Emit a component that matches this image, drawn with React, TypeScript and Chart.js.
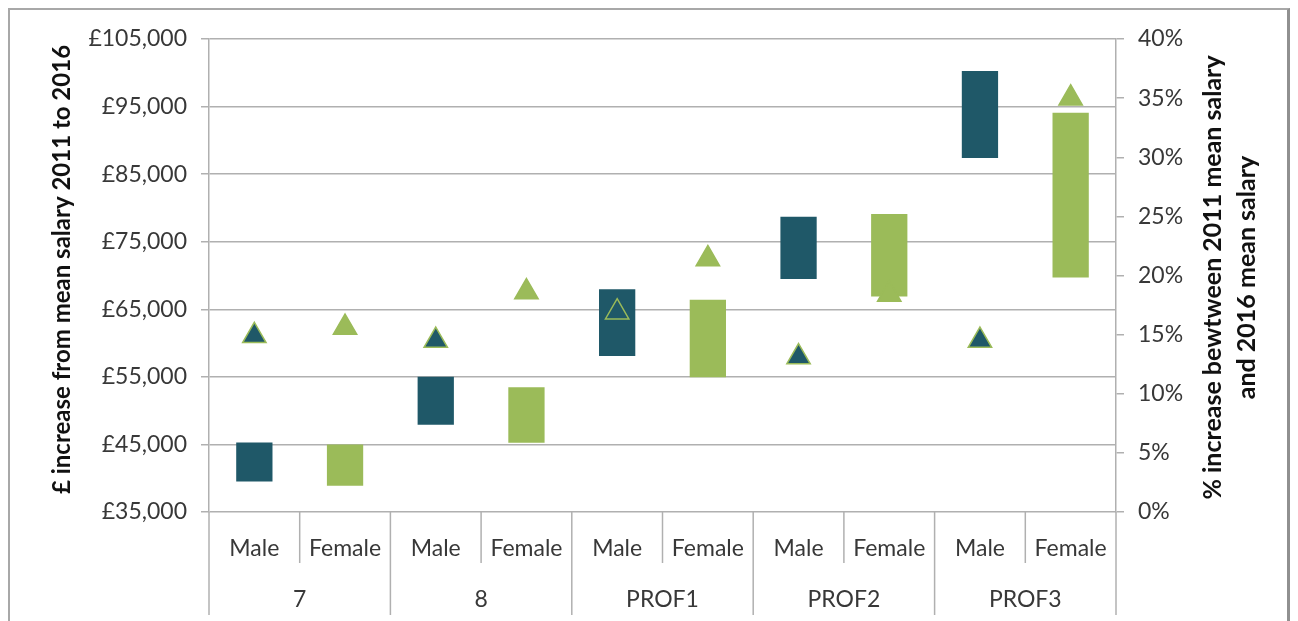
import { useEffect, useRef } from "react";
import { Chart, registerables, type Plugin } from "chart.js";

Chart.register(...registerables);

const groups = ["7", "8", "PROF1", "PROF2", "PROF3"];
const sexes = ["Male", "Female", "Male", "Female", "Male", "Female", "Male", "Female", "Male", "Female"];

// 2011 mean salary (low) and 2016 mean salary (high), £
const salaryLow = [39500, 38900, 47900, 45250, 58100, 54950, 69500, 66900, 87400, 69700];
const salaryHigh = [45300, 45000, 55000, 53450, 67950, 66400, 78700, 79100, 100250, 94100];

// % increase between 2011 and 2016 mean salary
const pctIncrease = [14.9, 15.6, 14.5, 18.6, 16.9, 21.4, 13.1, 18.4, 14.5, 35.0];

const leftTicks = [35000, 45000, 55000, 65000, 75000, 85000, 95000, 105000];
const rightTicks = [0, 5, 10, 15, 20, 25, 30, 35, 40];

const TEAL = "#1f5868";
const GREEN = "#9bbb59";
const GRID = "#b0b0b0";
const TEXT = "#383838";

const leftTitle = "£ increase from mean salary 2011 to 2016";
const rightTitle = ["% increase bewtween 2011 mean salary", "and 2016 mean salary"];

const groupAxis: Plugin<"bar"> = {
  id: "groupAxis",
  afterDraw(chart) {
    const { ctx, chartArea } = chart;
    const x = chart.scales.x;
    const n = sexes.length;
    const bottom = chartArea.bottom;
    ctx.save();
    ctx.strokeStyle = GRID;
    ctx.lineWidth = 1.5;
    for (let i = 0; i <= n; i++) {
      let px: number;
      if (i === 0) px = chartArea.left;
      else if (i === n) px = chartArea.right;
      else px = (x.getPixelForValue(i - 1) + x.getPixelForValue(i)) / 2;
      ctx.beginPath();
      ctx.moveTo(px, bottom);
      ctx.lineTo(px, bottom + (i % 2 === 0 ? 103 : 51));
      ctx.stroke();
    }
    ctx.fillStyle = TEXT;
    ctx.font = "23px Lato";
    ctx.textAlign = "center";
    ctx.textBaseline = "middle";
    groups.forEach((g, gi) => {
      const cx = (x.getPixelForValue(gi * 2) + x.getPixelForValue(gi * 2 + 1)) / 2;
      ctx.fillText(g, cx, bottom + 88);
    });

    // axis titles
    ctx.fillStyle = "#111";
    ctx.font = "bold 24px Lato";
    const midY = (chartArea.top + chartArea.bottom) / 2;
    ctx.save();
    ctx.translate(52, midY - 6);
    ctx.rotate(-Math.PI / 2);
    ctx.fillText(leftTitle, 0, 0);
    ctx.restore();
    ctx.save();
    ctx.translate(1203, midY + 2);
    ctx.rotate(-Math.PI / 2);
    ctx.font = "bold 25px Lato";
    ctx.fillText(rightTitle[0], 0, 0);
    ctx.fillText(rightTitle[1], 0, 34);
    ctx.restore();
    ctx.restore();
  },
};

export default function App() {
  const canvasRef = useRef<HTMLCanvasElement>(null);

  useEffect(() => {
    if (!canvasRef.current) return;
    const chart = new Chart(canvasRef.current, {
      type: "bar",
      data: {
        labels: sexes,
        datasets: [
          {
            type: "line",
            data: pctIncrease,
            yAxisID: "y1",
            showLine: false,
            pointStyle: "triangle",
            pointRadius: 13.5,
            pointHoverRadius: 13.5,
            pointBackgroundColor: sexes.map((s) => (s === "Male" ? TEAL : GREEN)),
            pointBorderColor: GREEN,
            pointBorderWidth: 1.5,
            order: 0,
          } as any,
          {
            type: "bar",
            data: salaryLow.map((lo, i) => [lo, salaryHigh[i]]),
            yAxisID: "y",
            backgroundColor: sexes.map((s) => (s === "Male" ? TEAL : GREEN)),
            borderWidth: 0,
            barPercentage: 0.4,
            categoryPercentage: 1,
            order: 1,
          },
        ],
      },
      options: {
        animation: false,
        responsive: true,
        maintainAspectRatio: false,
        layout: { padding: { top: 29, left: 0, right: 0, bottom: 0 } },
        plugins: {
          legend: { display: false },
          tooltip: { enabled: false },
        },
        scales: {
          x: {
            type: "category",
            offset: true,
            afterFit: (s) => {
              s.height = 109;
            },
            grid: { display: false, drawTicks: false },
            border: { display: false },
            ticks: {
              color: TEXT,
              font: { family: "Lato", size: 23 },
              padding: 23,
              maxRotation: 0,
              autoSkip: false,
            },
          },
          y: {
            position: "left",
            min: 35000,
            max: 105000,
            afterFit: (s) => {
              s.width = 199;
            },
            afterBuildTicks: (s) => {
              s.ticks = leftTicks.map((v) => ({ value: v }));
            },
            grid: { color: GRID, lineWidth: 1.5, tickLength: 8 },
            border: { display: true, color: GRID, width: 1.5 },
            ticks: {
              color: TEXT,
              font: { family: "Lato", size: 23 },
              padding: 14,
              callback: (v) => "£" + Number(v).toLocaleString("en-GB"),
            },
          },
          y1: {
            position: "right",
            min: 0,
            max: 40,
            afterFit: (s) => {
              s.width = 171;
            },
            afterBuildTicks: (s) => {
              s.ticks = rightTicks.map((v) => ({ value: v }));
            },
            grid: { drawOnChartArea: false, color: GRID, lineWidth: 1.5, tickLength: 8 },
            border: { display: true, color: GRID, width: 1.5 },
            ticks: {
              color: TEXT,
              font: { family: "Lato", size: 23 },
              padding: 14,
              callback: (v) => v + "%",
            },
          },
        },
      },
      plugins: [groupAxis as any],
    });
    return () => chart.destroy();
  }, []);

  return (
    <div
      style={{
        width: 1282,
        height: 613,
        boxSizing: "border-box",
        border: "2px solid #a8a8a8",
        borderRight: "3px solid #909090",
        borderBottom: "none",
        background: "#fff",
      }}
    >
      <div style={{ position: "relative", width: 1277, height: 611 }}>
        <canvas ref={canvasRef} />
      </div>
    </div>
  );
}
